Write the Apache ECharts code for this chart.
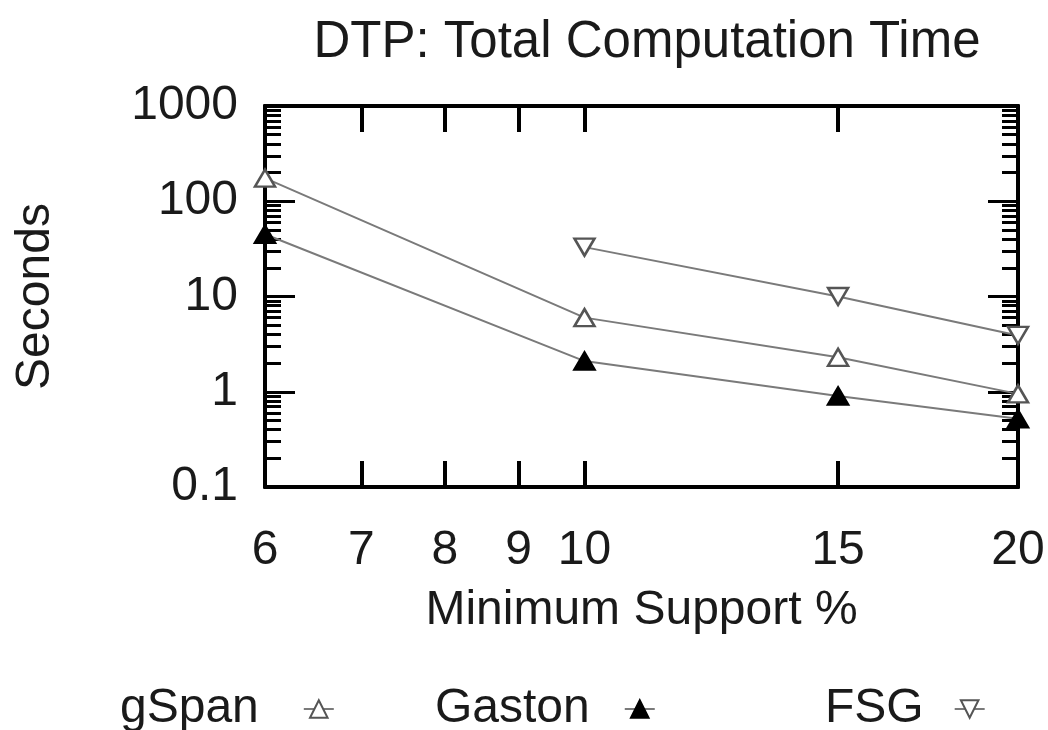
<!DOCTYPE html>
<html><head><meta charset="utf-8">
<script src="https://cdn.jsdelivr.net/npm/echarts@6/dist/echarts.min.js"></script>
<style>html,body{margin:0;padding:0;background:#fff}#c{width:1048px;height:730px}</style>
</head><body><div id="c"></div>
<script>
const supports = [6, 10, 15, 20];
const gSpan = [175, 6, 2.3, 0.95];
const gaston = [45, 2.1, 0.9, 0.52];
const fsg = [null, 33, 10, 3.9];
const xLabels = [6, 7, 8, 9, 10, 15, 20];
const xTicks = [7, 8, 9, 10, 15];
const yMajor = [0.1, 1, 10, 100, 1000];
const yMinor = [];
[0.1, 1, 10, 100].forEach(d => { for (let k = 2; k <= 9; k++) yMinor.push(+(d * k).toPrecision(3)); });

const FONT = "'Liberation Sans', Arial, sans-serif";
const TXT = '#1a1a1a';
const fs = 48;

const chart = echarts.init(document.getElementById('c'), null, {renderer: 'canvas'});
const pairs = arr => supports.map((s, i) => [s, arr[i]]).filter(p => p[1] != null);

function xAx(pos, showLabel) {
  return {
    type: 'log', logBase: 10, min: 6, max: 20, position: pos,
    axisLine: {show: true, onZero: false, lineStyle: {color: '#000', width: 4}},
    axisTick: {show: true, inside: true, length: 26, lineStyle: {color: '#000', width: 4}, customValues: xTicks},
    axisLabel: {show: showLabel, customValues: xLabels, margin: 40, fontSize: fs, fontFamily: FONT, color: TXT},
    splitLine: {show: false},
    name: showLabel ? 'Minimum Support %' : '', nameLocation: 'middle', nameGap: 100,
    nameTextStyle: {fontSize: fs, fontFamily: FONT, color: TXT}
  };
}
function yAx(pos, major, showLabel) {
  return {
    type: 'log', logBase: 10, min: 0.1, max: 1000, position: pos,
    axisLine: {show: true, onZero: false, lineStyle: {color: '#000', width: 4}},
    axisTick: {show: true, inside: true, length: major ? 30 : 16, lineStyle: {color: '#000', width: 3}, customValues: major ? yMajor : yMinor},
    axisLabel: {show: showLabel, customValues: yMajor, margin: 27, fontSize: fs, fontFamily: FONT, color: TXT,
      formatter: v => String(v)},
    splitLine: {show: false},
    name: showLabel ? 'Seconds' : '', nameLocation: 'middle', nameGap: 205, nameRotate: 90,
    nameTextStyle: {fontSize: fs, fontFamily: FONT, color: TXT}
  };
}

const lineCol = '#7a7a7a';
function ser(name, data, symbol, rotate, filled) {
  return {
    name, type: 'line', data: pairs(data), xAxisIndex: 0, yAxisIndex: 0,
    symbol, symbolRotate: rotate, symbolSize: [20, 17], showSymbol: true,
    lineStyle: {color: lineCol, width: 2},
    itemStyle: {color: filled ? '#000' : '#fff', borderColor: filled ? '#000' : '#555', borderWidth: 2.5},
    z: 3, clip: false
  };
}

function leg(name, left, pad) {
  return {
    orient: 'horizontal', align: 'right', top: 680, left, itemWidth: 30, itemHeight: 22,
    data: [name],
    textStyle: {fontSize: fs, fontFamily: FONT, color: TXT, padding: [0, pad, 0, 0]}
  };
}

chart.setOption({
  animation: false,
  backgroundColor: '#fff',
  title: {text: 'DTP: Total Computation Time', left: 642, textAlign: 'center', top: 12,
    textStyle: {fontSize: 51, fontFamily: FONT, color: TXT, fontWeight: 'normal'}},
  grid: {left: 265, right: 30, top: 106, bottom: 243, containLabel: false},
  xAxis: [xAx('bottom', true), xAx('top', false)],
  yAxis: [yAx('left', true, true), yAx('left', false, false), yAx('right', true, false), yAx('right', false, false)],
  legend: [leg('gSpan', 115, 40), leg('Gaston', 430, 30), leg('FSG', 820, 26)],
  series: [
    ser('gSpan', gSpan, 'triangle', 0, false),
    ser('Gaston', gaston, 'triangle', 0, true),
    ser('FSG', fsg, 'triangle', 180, false)
  ]
});
</script></body></html>
